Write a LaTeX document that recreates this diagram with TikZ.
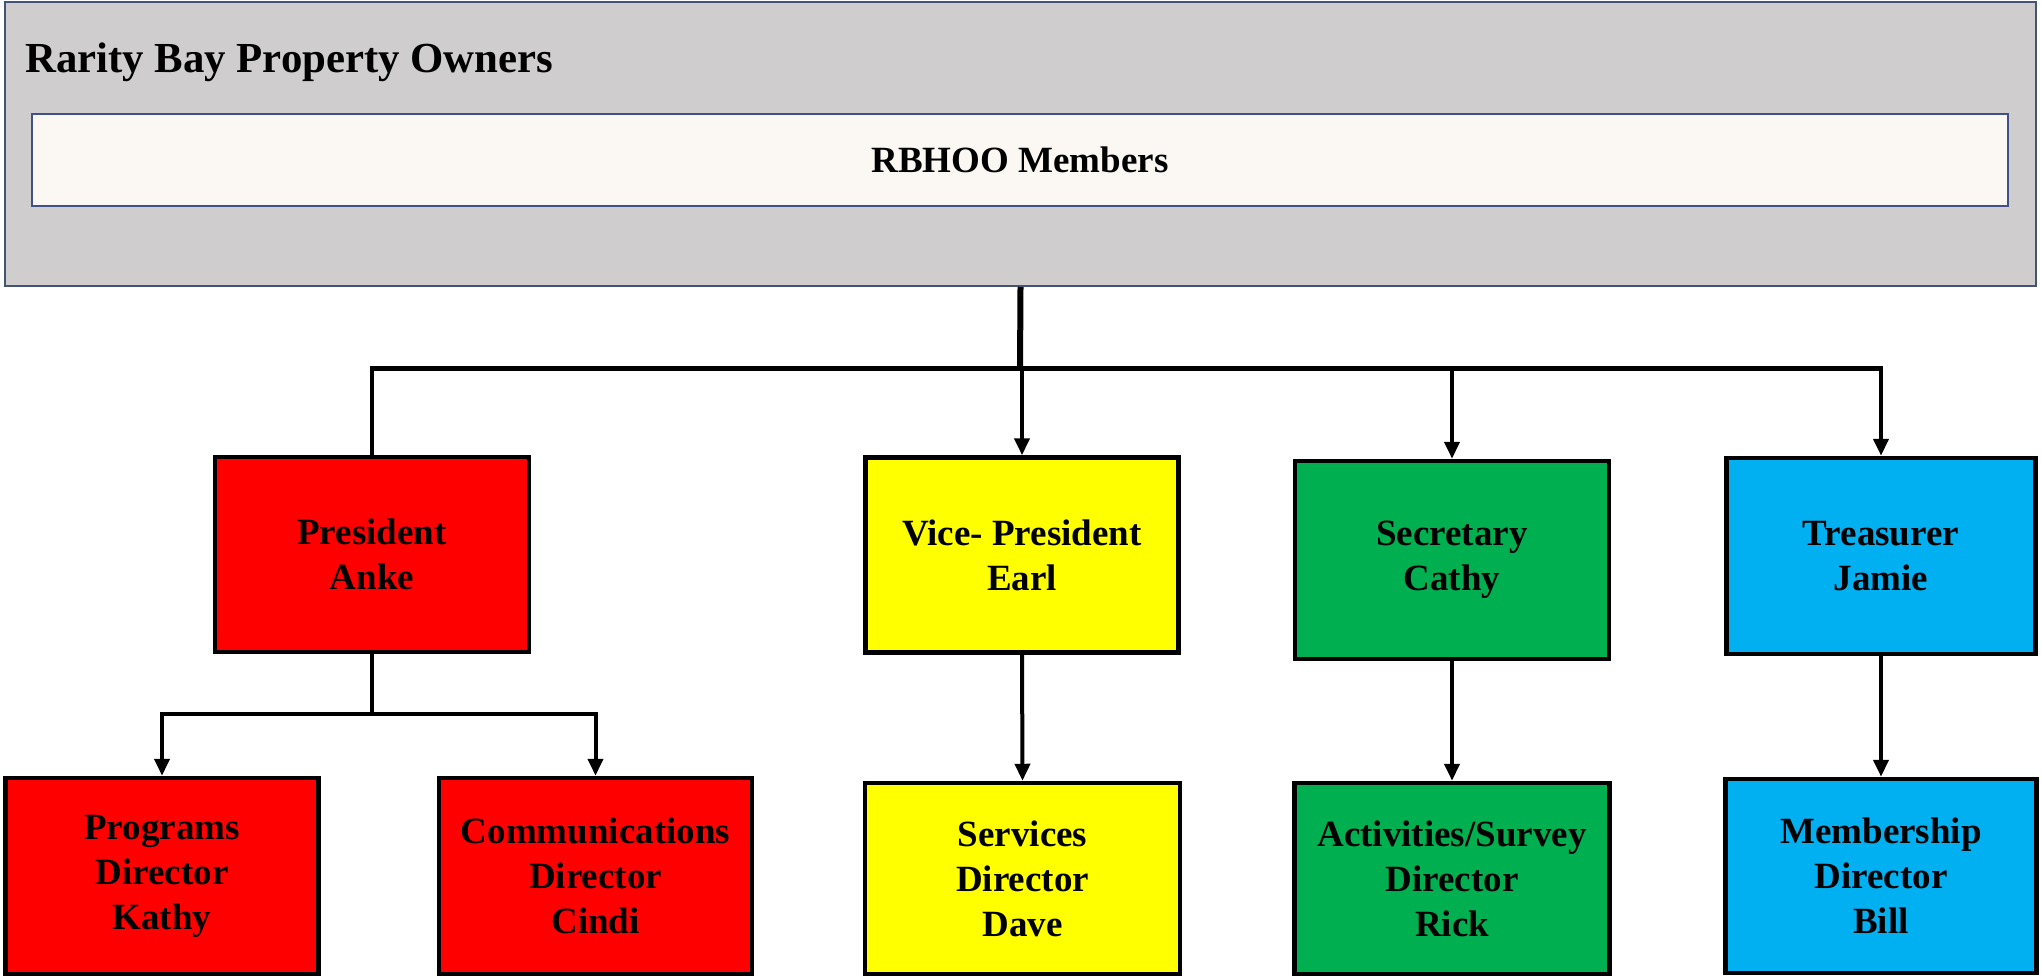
\documentclass[tikz,border=0pt]{standalone}
\usepackage{fontspec}
\setmainfont{Liberation Serif}
\usetikzlibrary{arrows.meta}
\definecolor{greyfill}{RGB}{207,205,206}
\definecolor{greyline}{RGB}{68,84,116}
\definecolor{creamfill}{RGB}{251,248,244}
\definecolor{creamline}{RGB}{63,81,136}
\definecolor{redbox}{RGB}{255,0,0}
\definecolor{yellowbox}{RGB}{255,255,0}
\definecolor{greenbox}{RGB}{0,176,80}
\definecolor{bluebox}{RGB}{0,176,240}
\tikzset{
  orgbox/.style={draw=black, line width=4.5pt, rectangle, align=center,
    inner sep=0pt, font=\fontsize{37}{45}\selectfont\bfseries},
  conn/.style={draw=black, line width=4pt},
  arr/.style={draw=black, line width=4pt, -{Triangle[width=15pt,length=17pt]}},
  thick bus/.style={draw=black, line width=6pt},
}
\begin{document}
\begin{tikzpicture}[x=1pt,y=-1pt]
\useasboundingbox (0,0) rectangle (2041,978);
% top container
\node[draw=greyline, fill=greyfill, line width=2pt, rectangle, inner sep=0pt,
  minimum width=2031pt, minimum height=284pt] (outer) at (1020.5,144) {};
\node[anchor=base west, inner sep=0pt, font=\fontsize{42.8}{50}\selectfont\bfseries]
  (title) at (25,72) {Rarity Bay Property Owners};
\node[draw=creamline, fill=creamfill, line width=2.5pt, rectangle, inner sep=0pt,
  minimum width=1976pt, minimum height=92pt, font=\fontsize{37}{45}\selectfont\bfseries]
  (members) at (1020,160) {RBHOO Members};
% level 1
\node[orgbox, fill=redbox, minimum width=314pt, minimum height=195pt] (pres) at (372,554.5) {President\\Anke};
\node[orgbox, fill=yellowbox, minimum width=313pt, minimum height=195pt] (vp) at (1022,555) {Vice- President\\Earl};
\node[orgbox, fill=greenbox, minimum width=314pt, minimum height=198pt] (sec) at (1452,560) {Secretary\\Cathy};
\node[orgbox, fill=bluebox, minimum width=309pt, minimum height=196pt] (tre) at (1881,556) {Treasurer\\Jamie};
% level 2
\node[orgbox, fill=redbox, minimum width=313pt, minimum height=196pt] (prog) at (162,876) {Programs\\Director\\Kathy};
\node[orgbox, fill=redbox, minimum width=313pt, minimum height=196pt] (comm) at (595.5,876) {Communications\\Director\\Cindi};
\node[orgbox, fill=yellowbox, minimum width=315pt, minimum height=191pt] (serv) at (1022.5,878.5) {Services\\Director\\Dave};
\node[orgbox, fill=greenbox, minimum width=315pt, minimum height=191pt] (act) at (1452,878.5) {Activities/Survey\\Director\\Rick};
\node[orgbox, fill=bluebox, minimum width=311pt, minimum height=194pt] (mem) at (1881,876) {Membership\\Director\\Bill};
% connectors
\coordinate (busM) at (1020,368);
\coordinate (busL) at (pres.north |- busM);
\coordinate (busR) at (tre.north |- busM);
\draw[thick bus] (outer.south) -- (busM);
\draw[draw=black, line width=5pt] ([xshift=-2pt]busL) -- ([xshift=2pt]busR);
\draw[conn] (busL) -- (pres.north);
\draw[arr] (vp.north |- busM) -- (vp.north);
\draw[arr] (sec.north |- busM) -- (sec.north);
\draw[arr] (busR) -- (tre.north);
\coordinate (cbus) at (pres.south |- 0,714);
\coordinate (cbusL) at (prog.north |- cbus);
\coordinate (cbusR) at (comm.north |- cbus);
\draw[conn] (pres.south) -- (cbus);
\draw[conn] ([xshift=-2pt]cbusL) -- ([xshift=2pt]cbusR);
\draw[arr] (cbusL) -- (prog.north);
\draw[arr] (cbusR) -- (comm.north);
\draw[arr] (vp.south) -- (serv.north);
\draw[arr] (sec.south) -- (act.north);
\draw[arr] (tre.south) -- (mem.north);
\end{tikzpicture}
\end{document}
